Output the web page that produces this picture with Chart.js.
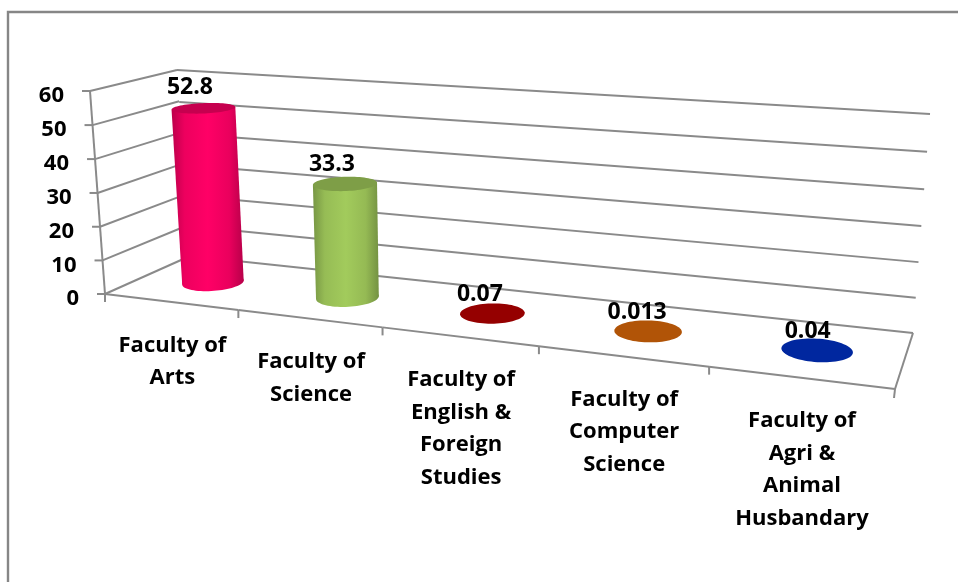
<!DOCTYPE html>
<html><head><meta charset="utf-8">
<style>html,body{margin:0;padding:0;background:#fff}#w{position:absolute;left:0;top:0;width:958px;height:582px}</style>
<script src="https://cdn.jsdelivr.net/npm/chart.js@4/dist/chart.umd.js"></script>
</head><body><div id="w"><canvas id="c"></canvas></div>
<script>
const categories = [["Faculty of","Arts"],["Faculty of","Science"],["Faculty of","English &","Foreign","Studies"],["Faculty of","Computer","Science"],["Faculty of","Agri &","Animal","Husbandary"]];
const values = [52.8,33.3,0.07,0.013,0.04];
const barColors = ["#ff0066","#a2cb5c","#c00000","#e46c0a","#0033cc"];
const yMax = 60, yStep = 10;

// picture geometry of the 3D box
const FL=[105,294],FR=[895,389],BR=[913,333],BL=[190,256],TL=[177,70],TR=[930,114],FT=[90,91];
const FONT="'Open Sans'", GRID="#8a8a8a";
function homography(p0,p1,p2,p3){ // (0,0),(1,0),(1,1),(0,1)
  const dx1=p1[0]-p2[0],dx2=p3[0]-p2[0],sx=p0[0]-p1[0]+p2[0]-p3[0];
  const dy1=p1[1]-p2[1],dy2=p3[1]-p2[1],sy=p0[1]-p1[1]+p2[1]-p3[1];
  const den=dx1*dy2-dx2*dy1,g=(sx*dy2-dx2*sy)/den,h=(dx1*sy-sx*dy1)/den;
  const a=p1[0]-p0[0]+g*p1[0],b=p3[0]-p0[0]+h*p3[0],c=p0[0];
  const d=p1[1]-p0[1]+g*p1[1],e=p3[1]-p0[1]+h*p3[1],f=p0[1];
  return (u,v)=>{const w=g*u+h*v+1;return [(a*u+b*v+c)/w,(d*u+e*v+f)/w];};
}
const floorH=homography(FL,FR,BR,BL), backH=homography(BL,BR,TR,TL), sideH=homography(FL,BL,TL,FT);
// height vector per unit z at a floor position
function up(u,d){
  const lerp=(a,b,t)=>a+(b-a)*t;
  const vFL=[-15,-203],vBL=[-13,-186],vBR=[17,-219],vFR=[19,-238];
  return [0,1].map(i=>lerp(lerp(vFL[i],vFR[i],u),lerp(vBL[i],vBR[i],u),d));
}
const lineItem=(a,b,t1,t2,s)=>({x1:a[0],y1:a[1],x2:b[0],y2:b[1],tx1:t1[0],ty1:t1[1],tx2:t2[0],ty2:t2[1],
  width:s.w,color:s.c,borderDash:[],borderDashOffset:0,tickWidth:s.tw,tickColor:s.c,tickBorderDash:[],tickBorderDashOffset:0});

class ProjY extends Chart.LinearScale{
  static id='projY'; static defaults={};
  zOf(px){return (this.bottom-px)/(this.bottom-this.top);}
  _computeLabelArea(){return null;}
  _computeGridLineItems(){
    const items=[],st={w:2,c:GRID,tw:2};
    this.ticks.forEach(t=>{
      const z=this.zOf(this.getPixelForValue(t.value));
      const f=sideH(0,z),b=sideH(1,z),r=backH(1,z),l=backH(0,z);
      items.push(lineItem(f,b,[f[0]-8,f[1]],f,st));
      items.push(lineItem(l,r,l,l,{w:2,c:GRID,tw:0}));
    });
    items.push(lineItem(FT,FL,FT,FT,{w:2,c:GRID,tw:0}));
    return items;
  }
  _computeLabelItems(area){
    const items=super._computeLabelItems(area);
    items.forEach((it,i)=>{
      const z=this.zOf(this.getPixelForValue(this.ticks[i].value));
      const f=sideH(0,z);
      it.options.translation=[f[0]-26,f[1]+5];
      it.options.textAlign='right'; it.options.textBaseline='middle'; it.textOffset=0;
    });
    return items;
  }
}
class ProjX extends Chart.CategoryScale{
  static id='projX'; static defaults={};
  uOf(px){return (px-this.left)/(this.right-this.left);}
  _computeLabelArea(){return null;}
  _computeGridLineItems(){
    const items=[],n=this.ticks.length,st={w:2,c:GRID,tw:2};
    for(let i=0;i<=n;i++){
      const u=i/n,p=floorH(u,0),q=floorH(Math.min(1,u+1/n),0);
      items.push(i<n?lineItem(p,q,p,[p[0],p[1]+8],st):lineItem(FR,BR,FR,[FR[0]-1,FR[1]+9],st));
    }
    return items;
  }
  _computeLabelItems(area){
    const items=super._computeLabelItems(area);
    items.forEach((it,i)=>{
      const p=floorH(this.uOf(this.getPixelForValue(i)),0);
      it.options.translation=[p[0]+2,p[1]+43.5];
      it.options.textAlign='center'; it.options.textBaseline='middle'; it.textOffset=0;
    });
    return items;
  }
}
Chart.register(ProjY,ProjX);

function shade(hex,k){const n=parseInt(hex.slice(1),16);return `rgb(${(n>>16&255)*k|0},${(n>>8&255)*k|0},${(n&255)*k|0})`;}
const DEPTH=0.5, RD=0.21;
function ellipsePath(ctx,u,ru,z){
  const top=[],sx=2.5*Math.min(1,2*u);
  for(let i=0;i<72;i++){
    const t=i/72*2*Math.PI,uu=u+ru*Math.cos(t),dd=DEPTH+RD*Math.sin(t);
    const p=floorH(uu,dd),v=up(uu,dd);
    top.push([p[0]+v[0]*z+sx,p[1]+v[1]*z+1]);
  }
  return top;
}
function poly(ctx,pts){ctx.beginPath();pts.forEach((p,i)=>i?ctx.lineTo(p[0],p[1]):ctx.moveTo(p[0],p[1]));ctx.closePath();}
Chart.BarElement.prototype.draw=function(ctx){
  const c=this.$context.chart,xs=c.scales.x,ys=c.scales.y;
  const u=xs.uOf(this.x),ru=this.width/2/(xs.right-xs.left),z=ys.zOf(this.y);
  const col=this.options.backgroundColor;
  const base=ellipsePath(ctx,u,ru,0),top=ellipsePath(ctx,u,ru,z);
  ctx.save();
  if(z>0.01){
    const idx=a=>a.reduce((m,p,i)=>p[0]<a[m][0]?i:m,0),idr=a=>a.reduce((m,p,i)=>p[0]>a[m][0]?i:m,0);
    const bl=base[idx(base)],br=base[idr(base)],tl=top[idx(top)],tr=top[idr(top)];
    const x0=Math.min(bl[0],tl[0]),x1=Math.max(br[0],tr[0]);
    const g=ctx.createLinearGradient(x0,0,x1,0);
    g.addColorStop(0,shade(col,.74));g.addColorStop(.18,shade(col,.93));g.addColorStop(.5,col);g.addColorStop(.8,shade(col,.92));g.addColorStop(1,shade(col,.72));
    ctx.fillStyle=g;
    poly(ctx,base);ctx.fill();
    ctx.beginPath();ctx.moveTo(tl[0],tl[1]);ctx.lineTo(tr[0],tr[1]);ctx.lineTo(br[0],br[1]);ctx.lineTo(bl[0],bl[1]);ctx.closePath();ctx.fill();
  }
  ctx.fillStyle=shade(col,.78);poly(ctx,top);ctx.fill();
  ctx.restore();
};
const boxAndLabels={
  id:'boxAndLabels',
  beforeDraw(c){const x=c.ctx;x.save();x.strokeStyle='#868686';x.lineWidth=2.4;x.beginPath();x.moveTo(8,582);x.lineTo(8,12);x.lineTo(958,12);x.stroke();x.restore();},
  afterDatasetsDraw(c){
    const x=c.ctx,xs=c.scales.x,ys=c.scales.y,m=c.getDatasetMeta(0);
    x.save();x.fillStyle='#000';x.font=`bold 23px ${FONT}`;x.textAlign='center';x.textBaseline='middle';
    m.data.forEach((el,i)=>{
      const u=xs.uOf(el.x),z=ys.zOf(el.y),p=floorH(u,DEPTH),v=up(u,DEPTH);
      x.fillText(String(values[i]),p[0]+v[0]*z-14+8*u,p[1]+v[1]*z-17.5-2*z);
    });
    x.restore();
  }
};
Chart.defaults.font.family=FONT;
new Chart(document.getElementById('c'),{
  type:'bar',
  data:{labels:categories,datasets:[{data:values,backgroundColor:barColors,barPercentage:.4,categoryPercentage:1,clip:false}]},
  options:{responsive:true,maintainAspectRatio:false,animation:false,
    layout:{padding:{left:105,right:63,top:91,bottom:288}},
    plugins:{legend:{display:false},tooltip:{enabled:false}},
    scales:{
      x:{type:'projX',offset:true,border:{display:false},grid:{offset:true,drawOnChartArea:true,drawTicks:true},
        afterFit(s){s.height=0;},
        ticks:{color:'#000',autoSkip:false,maxRotation:0,minRotation:0,font:{family:FONT,weight:'bold',size:22,lineHeight:32.5/22}}},
      y:{type:'projY',min:0,max:yMax,border:{display:false},
        afterFit(s){s.width=0;},
        ticks:{stepSize:yStep,color:'#000',font:{family:FONT,weight:'bold',size:22}}}
    }},
  plugins:[boxAndLabels]
});
</script></body></html>
